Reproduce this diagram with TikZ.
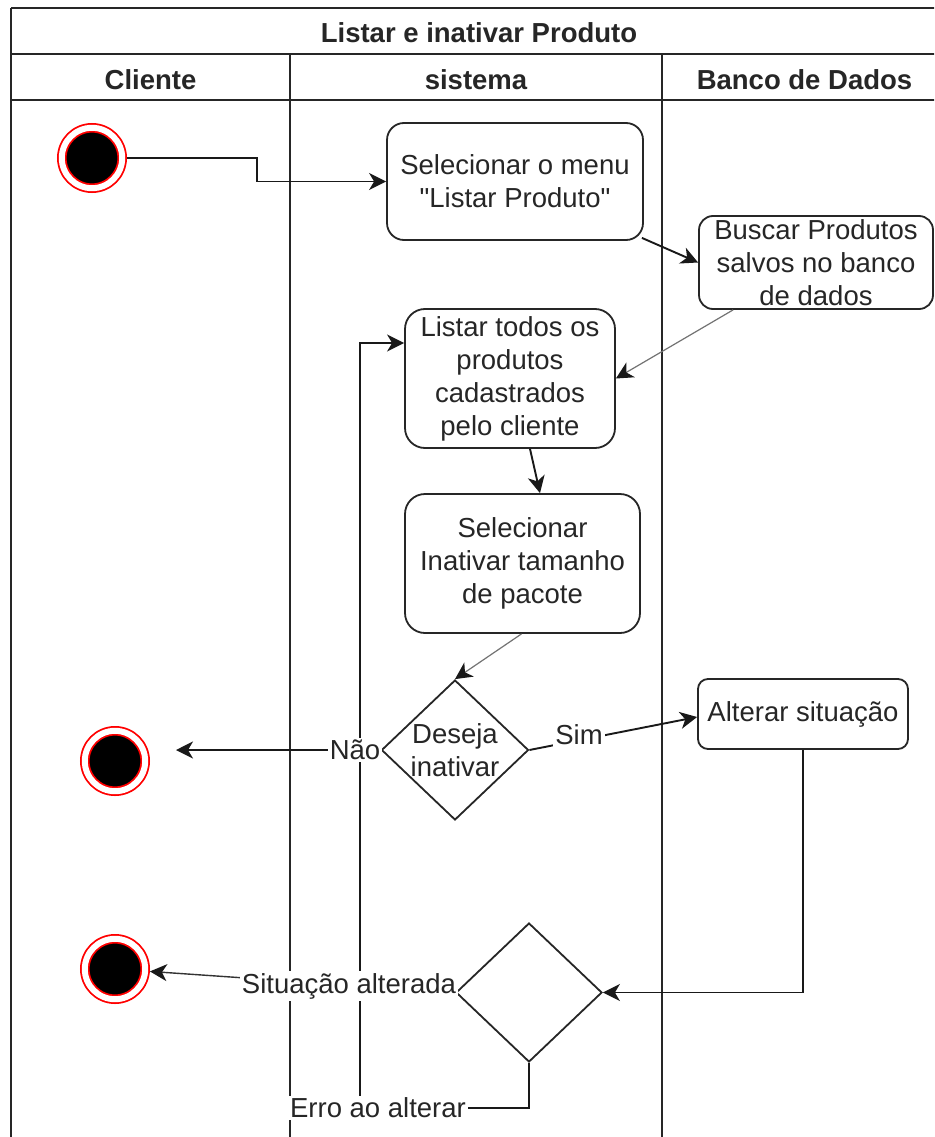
\documentclass[tikz,border=0pt]{standalone}
\usepackage{fontspec}
\setmainfont{Liberation Sans}
\usetikzlibrary{arrows.meta,shapes.geometric}
\newcommand\straightq{\XeTeXglyph\XeTeXcharglyph"22\relax}
\tikzset{
  fnt/.style={font=\fontsize{27.5}{33}\selectfont, text=black!85},
  hdr/.style={font=\fontsize{27.5}{33}\selectfont\bfseries, text=black!85, anchor=base, inner sep=0pt},
  lane/.style={draw=black!85, line width=1.8pt},
  act/.style={fnt, draw=black!85, line width=1.8pt, fill=white, align=center, inner sep=0pt},
  dec/.style={diamond, draw=black!85, line width=1.8pt, fill=white, inner sep=0pt},
  endst/.style={circle, draw=red, line width=1.8pt, double=white, double distance=6pt, fill=black,
                minimum size=60.4pt, inner sep=0pt, outer sep=4.8pt},
  arr/.style={draw=black!90, line width=1.9pt, -{Stealth[length=17pt,width=17pt,inset=5pt]}},
  thinarr/.style={draw=black!55, line width=1.2pt, -{Stealth[length=17pt,width=17pt,inset=5pt,color=black!90]}},
  midarr/.style={draw=black!80, line width=1.4pt, -{Stealth[length=17pt,width=17pt,inset=5pt,color=black!90]}},
  lbl/.style={fnt, fill=white, inner sep=2pt},
  txt/.style={fnt, align=center, inner sep=0pt}
}
\begin{document}
\begin{tikzpicture}[x=1pt,y=-1pt]
\useasboundingbox (0,0) rectangle (934,1137);
\fill[white] (0,0) rectangle (934,1137);
\clip (0,0) rectangle (934,1137);

% swimlanes
\draw[lane] (11,8) -- (950,8);
\draw[lane] (11,8) -- (11,1145);
\draw[lane] (11,54) -- (950,54);
\draw[lane] (11,100) -- (950,100);
\draw[lane] (290,54) -- (290,1145);
\draw[lane] (662,54) -- (662,1145);

\node[hdr] (title) at (479,43) {Listar e inativar Produto};
\node[hdr] (hcli) at (150.5,90) {Cliente};
\node[hdr] (hsis) at (476,90) {sistema};
\node[hdr] (hbd) at (804.5,90) {Banco de Dados};

% nodes
\node[endst] (st) at (92,158) {};
\node[endst] (e1) at (115,761) {};
\node[endst] (e2) at (115,969) {};

\node[act, minimum width=256pt, minimum height=117pt, rounded corners=17pt] (b1) at (515,181.5)
  {Selecionar o menu\\\straightq Listar Produto\straightq};
\node[act, minimum width=234pt, minimum height=93pt, rounded corners=14pt] (b2) at (816,262.5)
  {Buscar Produtos\\salvos no banco\\de dados};
\node[act, minimum width=210pt, minimum height=139pt, rounded corners=20pt] (b3) at (510,378.5)
  {Listar todos os\\produtos\\cadastrados\\pelo cliente};
\node[act, minimum width=235pt, minimum height=139pt, rounded corners=20pt] (b4) at (522.5,563.5)
  {Selecionar\\Inativar tamanho\\de pacote};
\node[act, minimum width=210pt, minimum height=70pt, rounded corners=10pt] (b5) at (803,714)
  {Alterar situação};
\node[dec, minimum width=147pt, minimum height=140pt] (d1) at (455,750) {};
\node[txt] (d1t) at (d1) {Deseja\\inativar};
\node[dec, minimum width=146pt, minimum height=139pt] (d2) at (529,992.5) {};

% connectors
\draw[arr] (st.east) -- (257,158) |- (b1.west);
\draw[arr] ([shift={(-2pt,3pt)}]b1.south east) -- (b2.west);
\draw[thinarr] ([xshift=35pt]b2.south west) -- (b3.east);
\draw[arr] ([xshift=20pt]b3.south) -- ([xshift=17.5pt]b4.north);
\draw[thinarr] ([xshift=-1pt]b4.south) -- (d1.north);
\coordinate (e1tip) at (176,750);
\draw[arr] (d1.west) -- (e1tip);
\draw[arr] (d1.east) -- ([yshift=-3pt]b5.west);
\draw[arr] (b5.south) |- (d2.east);
\draw[midarr] (d2.west) -- (e2);
\draw[arr] (d2.south) |- (360,1108) |- ([yshift=35.5pt]b3.west);

% labels
\node[lbl] (lnao) at (355,750) {Não};
\node[lbl] (lsim) at (579,735) {Sim};
\node[lbl] (lsit) at (349,986) {Situação alterada};
\node[lbl] (lerr) at (378,1108) {Erro ao alterar};
\end{tikzpicture}
\end{document}
